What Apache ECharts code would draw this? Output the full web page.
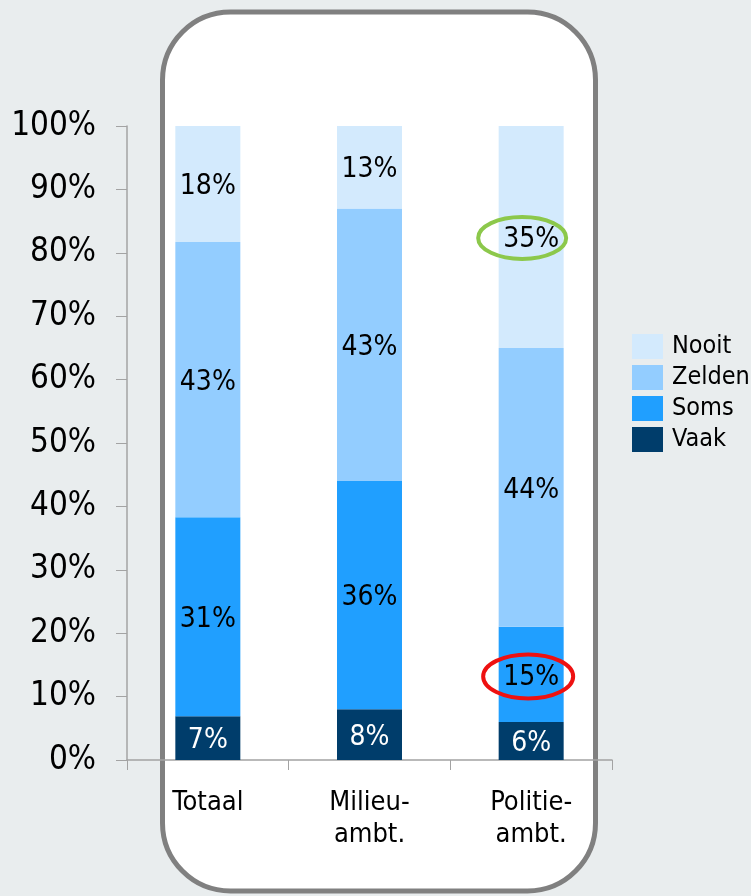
<!DOCTYPE html>
<html>
<head>
<meta charset="utf-8">
<script src="https://cdn.jsdelivr.net/npm/echarts@6/dist/echarts.min.js"></script>
<style>
html,body{margin:0;padding:0;background:#e9edee;}
#c{width:751px;height:896px;}
</style>
</head>
<body>
<div id="c"></div>
<script>
var categories = ['Totaal', 'Milieu-\nambt.', 'Politie-\nambt.'];
var vaak   = [6.9, 8.0, 6.0];
var soms   = [31.4, 36.0, 15.0];
var zelden = [43.4, 43.0, 44.0];
var nooit  = [18.3, 13.0, 35.0];
var yTicks = [0, 10, 20, 30, 40, 50, 60, 70, 80, 90, 100];

var FONT = '"DejaVu Sans Condensed", "DejaVu Sans", sans-serif';
var chart = echarts.init(document.getElementById('c'), null, {renderer: 'canvas'});

function mkSeries(name, data, color, labelColor) {
  return {
    name: name, type: 'bar', stack: 'all', data: data, barWidth: 65,
    itemStyle: {color: color},
    label: {
      show: true, position: 'inside', color: labelColor, offset: [0, 3],
      fontFamily: FONT, fontSize: 28,
      formatter: function (p) { return Math.round(p.value) + '%'; }
    }
  };
}

chart.setOption({
  backgroundColor: '#e9edee',
  animation: false,
  grid: {left: 127, right: 139, top: 126, bottom: 136},
  legend: {
    orient: 'vertical', left: 627, top: 329,
    itemWidth: 31, itemHeight: 25, itemGap: 6,
    icon: 'rect',
    data: ['Nooit', 'Zelden', 'Soms', 'Vaak'],
    textStyle: {fontFamily: FONT, fontSize: 25, color: '#000', padding: [0, 0, 0, 4]}
  },
  xAxis: {
    type: 'category', data: categories,
    axisLine: {lineStyle: {color: '#a3a3a3', width: 1.5}},
    axisTick: {show: true, length: 10, alignWithLabel: false, interval: 0, lineStyle: {color: '#a3a3a3'}},
    axisLabel: {fontFamily: FONT, fontSize: 27, color: '#000', margin: 27, lineHeight: 32, interval: 0}
  },
  yAxis: {
    type: 'value', min: yTicks[0], max: yTicks[yTicks.length - 1], interval: 10,
    axisLine: {show: true, lineStyle: {color: '#a3a3a3', width: 1.5}},
    axisTick: {show: true, length: 11, lineStyle: {color: '#a3a3a3'}},
    splitLine: {show: false},
    axisLabel: {fontFamily: FONT, fontSize: 33, color: '#000', margin: 31, formatter: '{value}%'}
  },
  series: [
    mkSeries('Vaak', vaak, '#003d6b', '#ffffff'),
    mkSeries('Soms', soms, '#209fff', '#000000'),
    mkSeries('Zelden', zelden, '#93cdff', '#000000'),
    mkSeries('Nooit', nooit, '#d3eafd', '#000000')
  ]
});

// annotation ellipses positioned from data
var pGreen = chart.convertToPixel({xAxisIndex: 0, yAxisIndex: 0}, [2, vaak[2] + soms[2] + zelden[2] + nooit[2] / 2]);
var pRed = chart.convertToPixel({xAxisIndex: 0, yAxisIndex: 0}, [2, vaak[2] + soms[2] / 2]);

chart.setOption({
  graphic: [
    {type: 'rect', z: -10, silent: true,
     shape: {x: 162.5, y: 12, width: 433, height: 879, r: 68},
     style: {fill: '#ffffff', stroke: '#808080', lineWidth: 5}},
    {type: 'ellipse', z: 100, silent: true,
     shape: {cx: pGreen[0] - 9, cy: pGreen[1] + 1, rx: 44, ry: 21},
     style: {fill: 'none', stroke: '#8cc84b', lineWidth: 4}},
    {type: 'ellipse', z: 100, silent: true,
     shape: {cx: pRed[0] - 3, cy: pRed[1] + 2, rx: 45, ry: 22},
     style: {fill: 'none', stroke: '#ee1111', lineWidth: 4}}
  ]
});
</script>
</body>
</html>
